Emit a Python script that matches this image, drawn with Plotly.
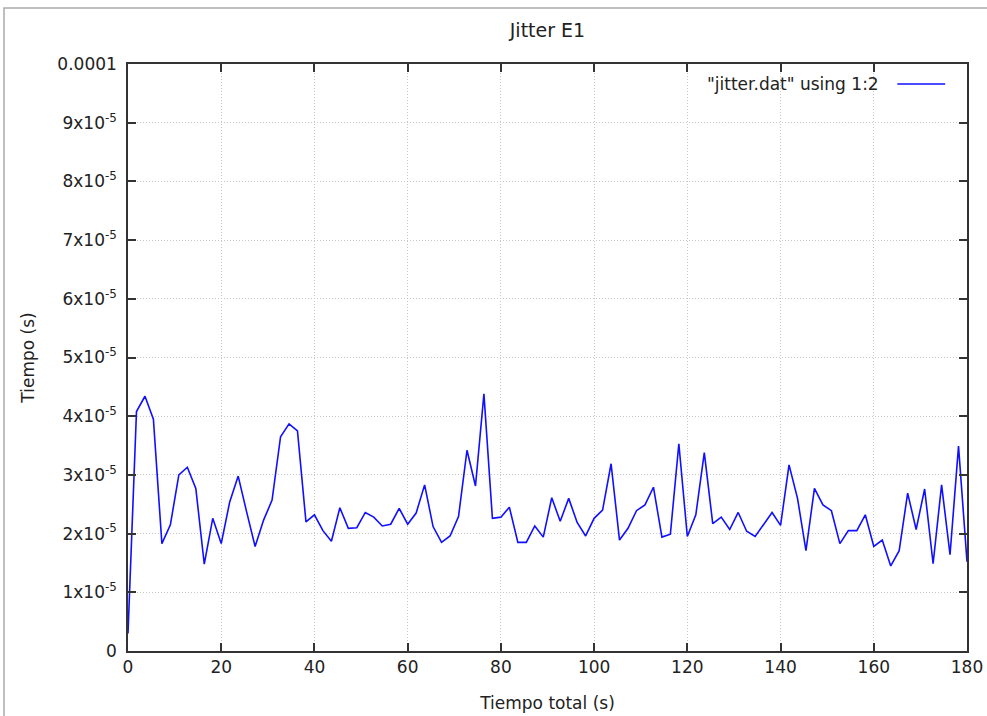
import plotly.graph_objects as go

# Time stamps (s)
tiempo = [0.00, 1.82, 3.64, 5.45, 7.27, 9.09, 10.91, 12.73, 14.55, 16.36,
          18.18, 20.00, 21.82, 23.64, 25.45, 27.27, 29.09, 30.91, 32.73, 34.55,
          36.36, 38.18, 40.00, 41.82, 43.64, 45.45, 47.27, 49.09, 50.91, 52.73,
          54.55, 56.36, 58.18, 60.00, 61.82, 63.64, 65.45, 67.27, 69.09, 70.91,
          72.73, 74.55, 76.36, 78.18, 80.00, 81.82, 83.64, 85.45, 87.27, 89.09,
          90.91, 92.73, 94.55, 96.36, 98.18, 100.00, 101.82, 103.64, 105.45, 107.27,
          109.09, 110.91, 112.73, 114.55, 116.36, 118.18, 120.00, 121.82, 123.64, 125.45,
          127.27, 129.09, 130.91, 132.73, 134.55, 136.36, 138.18, 140.00, 141.82, 143.64,
          145.45, 147.27, 149.09, 150.91, 152.73, 154.55, 156.36, 158.18, 160.00, 161.82,
          163.64, 165.45, 167.27, 169.09, 170.91, 172.73, 174.55, 176.36, 178.18, 180.00]

# Jitter values in units of 1e-5 s
jitter_e5 = [0.30, 4.08, 4.34, 3.95, 1.83, 2.15, 3.00, 3.13, 2.77, 1.48,
             2.26, 1.83, 2.54, 2.98, 2.37, 1.78, 2.23, 2.57, 3.65, 3.87,
             3.75, 2.20, 2.32, 2.05, 1.87, 2.44, 2.09, 2.10, 2.36, 2.28,
             2.13, 2.16, 2.43, 2.16, 2.35, 2.83, 2.12, 1.85, 1.96, 2.29,
             3.42, 2.81, 4.38, 2.26, 2.28, 2.45, 1.85, 1.85, 2.13, 1.94,
             2.61, 2.21, 2.60, 2.19, 1.96, 2.26, 2.40, 3.19, 1.89, 2.09,
             2.39, 2.49, 2.79, 1.94, 1.99, 3.53, 1.95, 2.32, 3.38, 2.17,
             2.28, 2.07, 2.36, 2.04, 1.95, 2.16, 2.36, 2.14, 3.17, 2.60,
             1.71, 2.77, 2.49, 2.39, 1.83, 2.05, 2.05, 2.32, 1.78, 1.89,
             1.45, 1.71, 2.69, 2.07, 2.76, 1.49, 2.83, 1.64, 3.49, 1.52]

jitter = [v * 1e-5 for v in jitter_e5]

y_tickvals = [0, 1e-5, 2e-5, 3e-5, 4e-5, 5e-5, 6e-5, 7e-5, 8e-5, 9e-5, 1e-4]
y_ticktext = ["0"] + [f"{i}x10<sup>-5</sup>" for i in range(1, 10)] + ["0.0001"]
x_tickvals = [0, 20, 40, 60, 80, 100, 120, 140, 160, 180]

FONT = "DejaVu Sans"
TXT = "#222222"
FS = 17

fig = go.Figure()
fig.add_trace(go.Scatter(
    x=tiempo, y=jitter, mode="lines",
    line=dict(color="#1010ff", width=1.6),
    name='"jitter.dat" using 1:2', showlegend=False,
))

axis_common = dict(
    showline=True, linecolor="#333333", linewidth=1.5, mirror="allticks",
    ticks="inside", ticklen=8, tickcolor="#333333", tickwidth=1.5,
    showgrid=True, gridcolor="#c8c8c8", griddash="1px,2px", gridwidth=1,
    zeroline=False, automargin=False,
    tickfont=dict(family=FONT, size=FS, color=TXT),
)

fig.update_xaxes(range=[0, 180], tickvals=x_tickvals,
                 title=dict(text="Tiempo total (s)", font=dict(family=FONT, size=FS, color=TXT), standoff=21),
                 **axis_common)
fig.update_yaxes(range=[0, 1e-4], tickvals=y_tickvals, ticktext=y_ticktext,
                 ticklabelstandoff=6,
                 title=dict(text="Tiempo (s)", font=dict(family=FONT, size=FS, color=TXT), standoff=18),
                 **axis_common)

# legend in gnuplot style: text then line sample
fig.add_annotation(x=0.897, y=0.966, xref="paper", yref="paper",
                   text='"jitter.dat" using 1:2', showarrow=False,
                   xanchor="right", yanchor="middle",
                   font=dict(family=FONT, size=FS, color=TXT))
fig.add_shape(type="line", xref="paper", yref="paper",
              x0=0.917, x1=0.974, y0=0.966, y1=0.966,
              line=dict(color="#1010ff", width=1.6))

# outer frame of the screenshot
fig.add_shape(type="rect", xref="paper", yref="paper",
              x0=-0.1478, x1=1.05, y0=-0.2, y1=1.0954,
              line=dict(color="#aaaaaa", width=1.5), layer="below")

fig.update_layout(
    width=987, height=716, autosize=False,
    margin=dict(l=128, r=20, t=64, b=65, autoexpand=False),
    paper_bgcolor="white", plot_bgcolor="white",
    title=dict(text="Jitter E1", x=0.5547, xanchor="center", y=0.958, yanchor="middle",
               font=dict(family=FONT, size=19, color=TXT)),
    font=dict(family=FONT),
)

fig.write_html("out.html")
